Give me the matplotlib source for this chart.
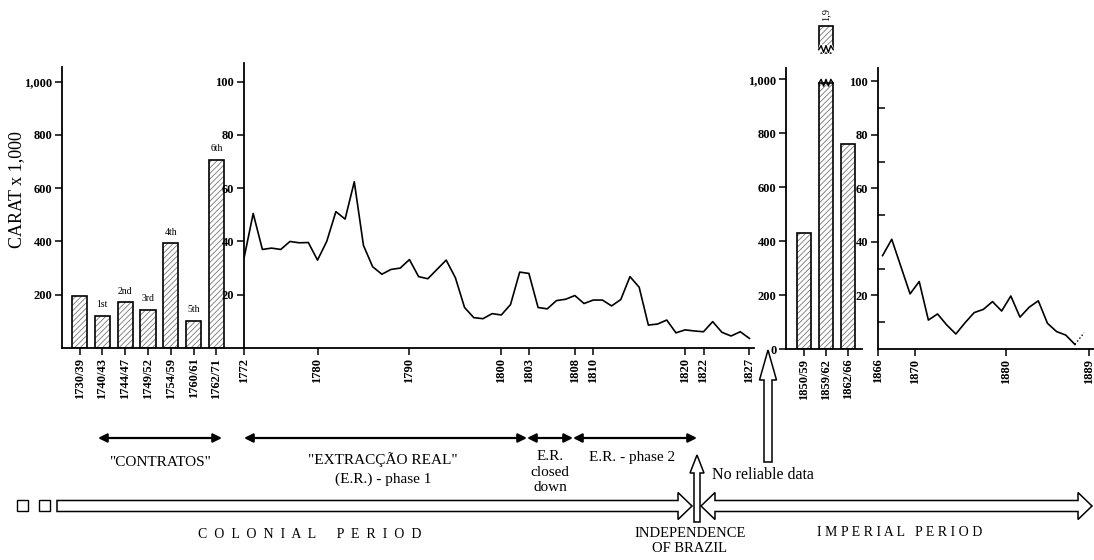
import numpy as np
import matplotlib.pyplot as plt
from matplotlib.patches import Polygon, FancyArrow, Rectangle

plt.rcParams['font.family'] = ['Liberation Serif', 'DejaVu Serif']
plt.rcParams['hatch.linewidth'] = 0.6

# contract periods (bars, carat x 1000)
contract_labels = ['1730/39', '1740/43', '1744/47', '1749/52', '1754/59', '1760/61', '1762/71']
contract_vals = [195, 121, 172, 144, 393, 103, 707]
contract_names = ['', '1st', '2nd', '3rd', '4th', '5th', '6th']

# Extracção Real, yearly (carat x 1000)
er_years = np.arange(1772, 1828)
er_vals = [33.7, 50.5, 37, 37.5, 37, 40, 39.5, 39.6, 33, 40,
           51.2, 48.4, 62.4, 38.5, 30.5, 27.7, 29.5, 30, 33.2, 26.8,
           26, 29.5, 33, 26.4, 15.2, 11.4, 11, 12.9, 12.4, 16.3,
           28.5, 28, 15.2, 14.7, 17.8, 18.3, 19.7, 16.7, 18, 18,
           15.8, 18.2, 26.8, 22.8, 8.6, 9, 10.5, 5.7, 6.8, 6.4,
           6.1, 9.9, 5.9, 4.5, 6.1, 3.6]
er_ticks = [1772, 1780, 1790, 1800, 1803, 1808, 1810, 1820, 1822, 1827]

# imperial period, grouped years (carat x 1000)
imp_labels = ['1850/59', '1859/62', '1862/66']
imp_vals = [432, 1900, 759]

# imperial period, yearly (carat x 1000)
late_years = np.arange(1866, 1888)
late_vals = [34.9, 41, 30.8, 20.6, 25.2, 10.8, 13.1, 9, 5.6, 9.8,
             13.6, 14.8, 17.7, 14.2, 19.8, 11.9, 15.6, 18, 9.6, 6.5,
             5.2, 1.7]
dotted_years = [1887, 1888]
dotted_vals = [1.7, 6.1]
late_ticks = [1866, 1870, 1880, 1889]

W, H = 1094, 560
fig = plt.figure(figsize=(W / 100, H / 100), dpi=100)


def box(left, right, top, bottom):
    return [left / W, 1 - bottom / H, (right - left) / W, (bottom - top) / H]


tick_font = dict(fontsize=9, fontweight='bold')


def style(ax):
    for s in ['top', 'right']:
        ax.spines[s].set_visible(False)
    for s in ['left', 'bottom']:
        ax.spines[s].set_linewidth(1.3)
    ax.tick_params(direction='out', length=5, width=1.1, pad=2)
    for lab in ax.get_yticklabels():
        lab.set_fontsize(9)
        lab.set_fontweight('bold')
    ax.set_facecolor('none')


def hatched_bars(ax, x, h, width, bottom=0, clip=True):
    ax.bar(x, h, width, bottom=bottom, color='white', edgecolor='#777777',
           hatch='//////', linewidth=0, clip_on=clip)
    ax.bar(x, h, width, bottom=bottom, fill=False, edgecolor='black',
           linewidth=1.2, clip_on=clip)


# panel 1: contracts
ax1 = fig.add_axes(box(62, 244, 67, 348))
xc = np.arange(len(contract_vals))
hatched_bars(ax1, xc, contract_vals, 0.66)
for x, v, n in zip(xc, contract_vals, contract_names):
    ax1.text(x, v + 25, n, ha='center', va='bottom', fontsize=7)
ax1.set_xlim(-0.77, 7.21)
ax1.set_ylim(0, 1055)
ax1.set_yticks([200, 400, 600, 800, 1000])
ax1.set_yticklabels(['200', '400', '600', '800', '1,000'])
ax1.set_xticks(xc)
ax1.set_xticklabels(contract_labels, rotation=90, **tick_font)
style(ax1)

# panel 2: Extracção Real
ax2 = fig.add_axes(box(244, 754, 63, 348))
ax2.plot(er_years, er_vals, color='black', lw=1.2)
ax2.set_xlim(1772, 1772 + 510 / 9.19)
ax2.set_ylim(0, 107)
ax2.set_yticks([20, 40, 60, 80, 100])
ax2.set_xticks(er_ticks)
ax2.set_xticklabels([str(t) for t in er_ticks], rotation=90, **tick_font)
style(ax2)

# panel 3: imperial grouped bars
ax3 = fig.add_axes(box(786, 862, 68, 349))
xi = np.arange(len(imp_vals))
shown = [min(v, 985) for v in imp_vals]
hatched_bars(ax3, xi, shown, 0.66)
# broken bar for 1859/62
bw = 0.66
zx = np.linspace(1 - bw / 2, 1 + bw / 2, 7)
ax3.plot(zx, [985, 1000, 975, 1000, 975, 1000, 985], color='black', lw=1.0, clip_on=False)
hatched_bars(ax3, [1], [100], bw, bottom=1098, clip=False)
ax3.plot(zx, [1098, 1125, 1100, 1125, 1100, 1125, 1098], color='white', lw=2.5, clip_on=False)
ax3.plot(zx, [1110, 1125, 1100, 1125, 1100, 1125, 1110], color='black', lw=1.0, clip_on=False)
ax3.text(1, 1215, '1,9', rotation=90, ha='center', va='bottom', fontsize=7.5)
ax3.set_xlim(-0.82, 2.64)
ax3.set_ylim(0, 1042)
ax3.set_yticks([0, 200, 400, 600, 800, 1000])
ax3.set_yticklabels(['0', '200', '400', '600', '800', '1,000'])
ax3.set_xticks(xi)
ax3.set_xticklabels(imp_labels, rotation=90, **tick_font)
style(ax3)

# panel 4: imperial yearly
ax4 = fig.add_axes(box(878, 1094, 68, 349))
ax4.plot(late_years + 0.5, late_vals, color='black', lw=1.2)
ax4.plot(np.array(dotted_years) + 0.5, dotted_vals, color='black', lw=1.0, ls=':')
ax4.set_xlim(1866, 1866 + 216 / 9.16)
ax4.set_ylim(0, 105)
ax4.set_yticks([20, 40, 60, 80, 100])
ax4.set_yticks([10, 30, 50, 70, 90], minor=True)
ax4.tick_params(axis='y', which='minor', direction='in', length=5, width=1.1)
ax4.set_xticks(late_ticks)
ax4.set_xticklabels([str(t) for t in late_ticks], rotation=90, **tick_font)
style(ax4)

fig.text(17 / W, 1 - 190 / H, 'CARAT x 1,000', rotation=90, ha='center', va='center',
         fontsize=13)

# annotation layer in pixel coordinates
ov = fig.add_axes([0, 0, 1, 1])
ov.set_xlim(0, W)
ov.set_ylim(H, 0)
ov.axis('off')
ov.set_facecolor('none')

arrow_kw = dict(arrowstyle='<|-|>', lw=1.6, color='black', mutation_scale=13,
                shrinkA=0, shrinkB=0)
for x0, x1 in [(98, 222), (244, 527), (527, 573), (573, 697)]:
    ov.annotate('', xy=(x1, 438), xytext=(x0, 438), arrowprops=arrow_kw)

txt = dict(ha='center', va='center', fontsize=11)
ov.text(160, 463, '"CONTRATOS"', **txt)
ov.text(383, 460, '"EXTRACÇÃO REAL"', **txt)
ov.text(383, 479, '(E.R.) - phase 1', **txt)
ov.text(550, 472, 'E.R.\nclosed\ndown', linespacing=1.25, **txt)
ov.text(632, 457, 'E.R. - phase 2', **txt)
ov.text(712, 475, 'No reliable data', ha='left', va='center', fontsize=11.5)


def hollow_h(x0, x1, y, shaft, hw, hl, left=False, right=True):
    pts = []
    if left:
        pts += [(x0, y), (x0 + hl, y - hw / 2), (x0 + hl, y - shaft / 2)]
    else:
        pts += [(x0, y - shaft / 2)]
    if right:
        pts += [(x1 - hl, y - shaft / 2), (x1 - hl, y - hw / 2), (x1, y),
                (x1 - hl, y + hw / 2), (x1 - hl, y + shaft / 2)]
    else:
        pts += [(x1, y - shaft / 2), (x1, y + shaft / 2)]
    if left:
        pts += [(x0 + hl, y + shaft / 2), (x0 + hl, y + hw / 2)]
    else:
        pts += [(x0, y + shaft / 2)]
    ov.add_patch(Polygon(pts, closed=True, fc='white', ec='black', lw=1.1))


hollow_h(57, 692, 506, 11, 27, 14)
hollow_h(701, 1092, 506, 11, 27, 14, left=True)
for x in [17, 39]:
    ov.add_patch(Rectangle((x, 500), 11, 11, fc='white', ec='black', lw=1.0))

ov.add_patch(FancyArrow(697, 522, 0, -67, width=6, head_width=14, head_length=18,
                        length_includes_head=True, fc='white', ec='black', lw=1.1))
ov.add_patch(FancyArrow(768, 462, 0, -112, width=8, head_width=17, head_length=30,
                        length_includes_head=True, fc='white', ec='black', lw=1.1))

ov.text(310, 535, 'C  O  L  O  N  I  A  L      P  E  R  I  O  D', ha='center',
        va='center', fontsize=10)
ov.text(900, 533, 'I M P E R I A L   P E R I O D', ha='center', va='center',
        fontsize=10)
ov.text(690, 541, 'INDEPENDENCE\nOF BRAZIL', ha='center', va='center', fontsize=10.5,
        linespacing=1.15)

fig.savefig('out.png', dpi=100)
